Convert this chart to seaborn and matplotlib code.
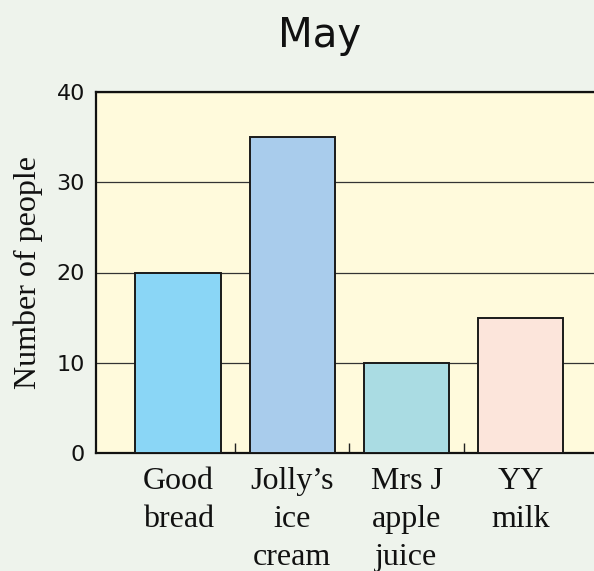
import matplotlib
matplotlib.use("Agg")
import matplotlib.pyplot as plt
import seaborn as sns
import pandas as pd
from matplotlib.ticker import FixedLocator

categories = ["Good\nbread", "Jolly’s\nice\ncream", "Mrs J\napple\njuice", "YY\nmilk"]
values = [20, 35, 10, 15]
bar_colors = ["#8AD6F6", "#A9CCEC", "#AADCE3", "#FCE5DB"]
yticks = [0, 10, 20, 30, 40]
title = "May"
ylabel = "Number of people"

sns.set_theme(style="white")
plt.rcParams["font.family"] = ["DejaVu Sans"]

fig = plt.figure(figsize=(5.94, 5.71), dpi=100)
fig.patch.set_facecolor("#EEF3EC")
W, H = 594, 571
left, right, top, bottom = 96, 620, 92, 453
ax = fig.add_axes([left / W, 1 - bottom / H, (right - left) / W, (bottom - top) / H])
ax.set_facecolor("#FFFADC")

df = pd.DataFrame({"cat": categories, "val": values})
sns.barplot(data=df, x="cat", y="val", hue="cat", palette=bar_colors, legend=False,
            saturation=1, width=0.75, edgecolor="#1a1a1a", linewidth=1.4, ax=ax, zorder=3)

ax.set_ylim(0, 40)
ax.set_xlim(-0.72, 3.87)
ax.set_yticks(yticks)
ax.yaxis.grid(True, color="#333333", linewidth=0.9)
ax.set_axisbelow(True)
ax.tick_params(axis="y", length=0, pad=8, labelsize=16, labelcolor="#111111")
ax.tick_params(axis="x", which="major", length=0, pad=10)
ax.xaxis.set_minor_locator(FixedLocator([0.5, 1.5, 2.5]))
ax.tick_params(axis="x", which="minor", bottom=True, direction="in", length=7, width=1,
               color="#222222")
for t in ax.xaxis.get_minor_ticks():
    t.tick1line.set_visible(True)
    t.tick1line.set_zorder(5)
for lbl in ax.get_xticklabels():
    lbl.set_fontfamily("Liberation Serif")
    lbl.set_fontsize(23)
    lbl.set_color("#111111")
    lbl.set_linespacing(1.42)
    lbl.set_verticalalignment("top")

for s in ["left", "top", "bottom", "right"]:
    ax.spines[s].set_color("#111111")
    ax.spines[s].set_linewidth(1.6)
    ax.spines[s].set_visible(True)

ax.set_xlabel("")
ax.set_ylabel(ylabel, fontfamily="Liberation Serif", fontsize=23, color="#111111", labelpad=10)
fig.text(320 / W, 1 - 36 / H, title, ha="center", va="center", fontsize=29, color="#111111")

fig.savefig("out.png", dpi=100, facecolor=fig.get_facecolor())
